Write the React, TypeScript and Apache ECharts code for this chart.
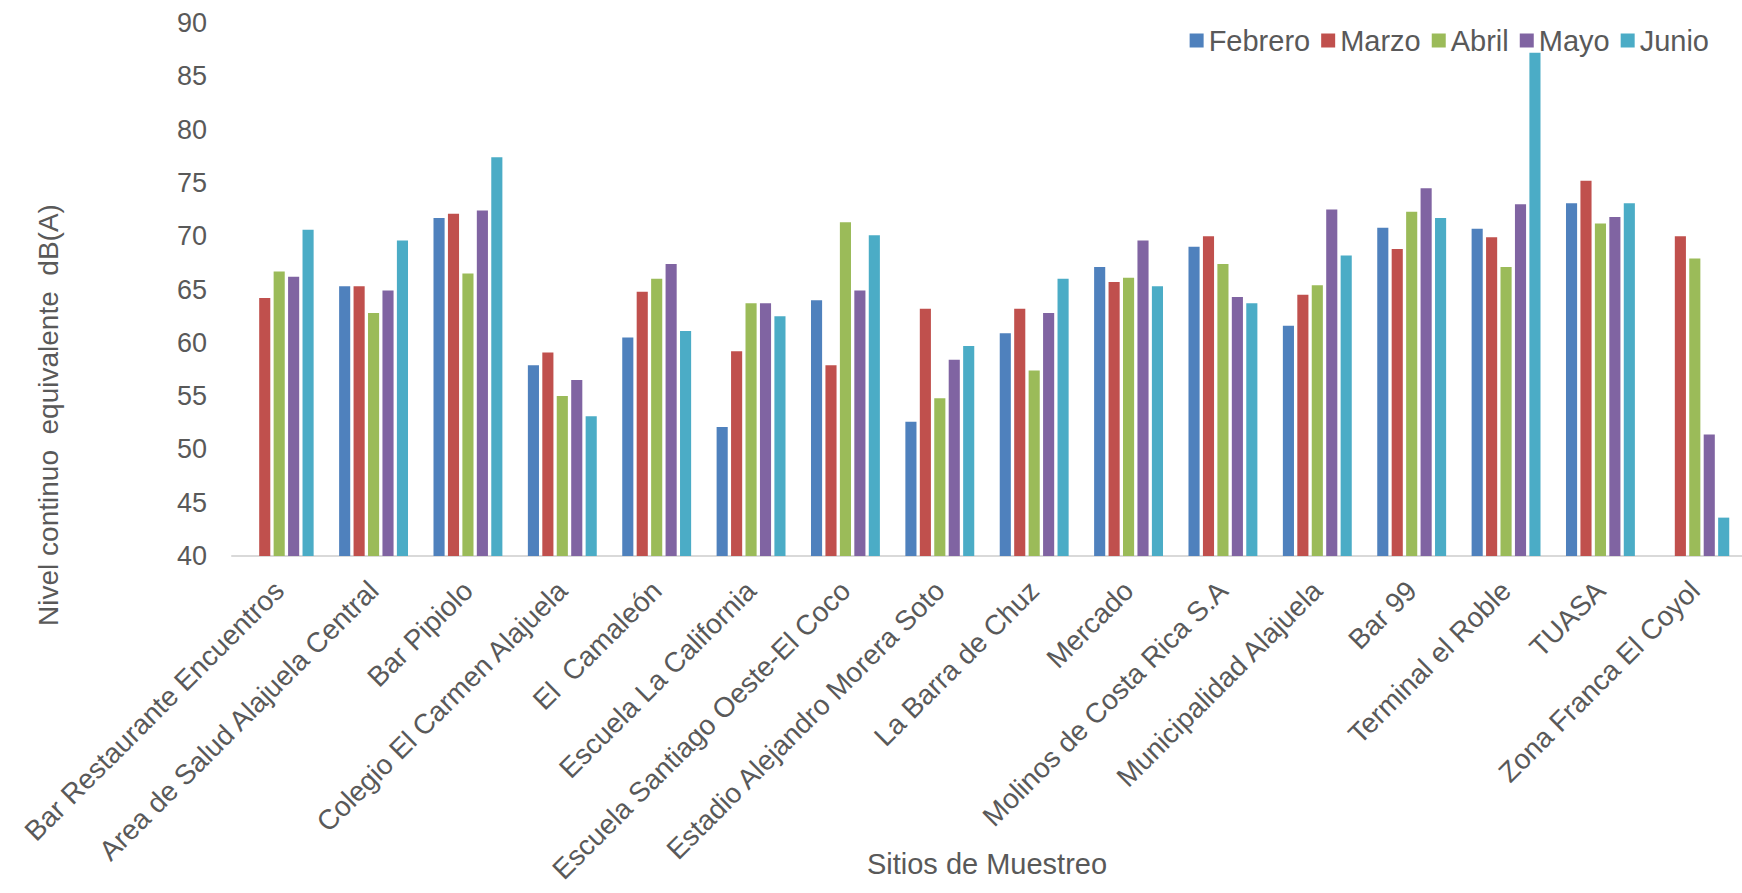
import React, { useEffect, useRef } from "react";
import * as echarts from "echarts";

const sites = [
  "Bar Restaurante Encuentros",
  "Area de Salud Alajuela Central",
  "Bar Pipiolo",
  "Colegio El Carmen Alajuela",
  "El  Camaleón",
  "Escuela La California",
  "Escuela Santiago Oeste-El Coco",
  "Estadio Alejandro Morera Soto",
  "La Barra de Chuz",
  "Mercado",
  "Molinos de Costa Rica S.A",
  "Municipalidad Alajuela",
  "Bar 99",
  "Terminal el Roble",
  "TUASA",
  "Zona Franca El Coyol",
];

const febrero = [null, 65.3, 71.7, 57.9, 60.5, 52.1, 64.0, 52.6, 60.9, 67.1, 69.0, 61.6, 70.8, 70.7, 73.1, null];
const marzo = [64.2, 65.3, 72.1, 59.1, 64.8, 59.2, 57.9, 63.2, 63.2, 65.7, 70.0, 64.5, 68.8, 69.9, 75.2, 70.0];
const abril = [66.7, 62.8, 66.5, 55.0, 66.0, 63.7, 71.3, 54.8, 57.4, 66.1, 67.4, 65.4, 72.3, 67.1, 71.2, 67.9];
const mayo = [66.2, 64.9, 72.4, 56.5, 67.4, 63.7, 64.9, 58.4, 62.8, 69.6, 64.3, 72.5, 74.5, 73.0, 71.8, 51.4];
const junio = [70.6, 69.6, 77.4, 53.1, 61.1, 62.5, 70.1, 59.7, 66.0, 65.3, 63.7, 68.2, 71.7, 87.2, 73.1, 43.6];

const seriesNames = ["Febrero", "Marzo", "Abril", "Mayo", "Junio"];
const seriesData = [febrero, marzo, abril, mayo, junio];
const colors = ["#4F81BD", "#C0504D", "#9BBB59", "#8064A2", "#4BACC6"];

const yTicks = { min: 40, max: 90, interval: 5 };

const FONT = "'Liberation Sans', Arial, sans-serif";
const TEXT = "#595959";

export default function App() {
  const ref = useRef<HTMLDivElement>(null);
  useEffect(() => {
    if (!ref.current) return;
    const chart = echarts.init(ref.current, undefined, { renderer: "svg" });
    chart.setOption({
      animation: false,
      color: colors,
      textStyle: { fontFamily: FONT },
      legend: {
        data: seriesNames,
        right: 28,
        top: 21,
        itemWidth: 14,
        itemHeight: 14,
        itemGap: 11,
        icon: "rect",
        textStyle: { fontSize: 29, color: TEXT, fontFamily: FONT, padding: [0, 0, 0, 0] },
      },
      grid: {
        left: 232,
        right: 0,
        top: 23,
        bottom: 337,
        containLabel: false,
        outerBoundsMode: "none",
      },
      xAxis: {
        type: "category",
        data: sites,
        name: "Sitios de Muestreo",
        nameLocation: "middle",
        nameGap: 293,
        nameMoveOverlap: false,
        nameTextStyle: { fontSize: 29, color: TEXT, fontFamily: FONT },
        axisLine: { lineStyle: { color: "#D9D9D9", width: 2 } },
        axisTick: { show: false },
        axisLabel: {
          rotate: 45,
          interval: 0,
          margin: 30,
          fontSize: 28,
          color: TEXT,
          fontFamily: FONT,
        },
      },
      yAxis: {
        type: "value",
        min: yTicks.min,
        max: yTicks.max,
        interval: yTicks.interval,
        name: "Nivel continuo  equivalente  dB(A)",
        nameLocation: "middle",
        nameGap: 170,
        nameMoveOverlap: false,
        nameTextStyle: { fontSize: 28, color: TEXT, fontFamily: FONT, padding: [0, 251, 0, 0] },
        axisLine: { show: false },
        axisTick: { show: false },
        splitLine: { show: false },
        axisLabel: { fontSize: 27, color: TEXT, margin: 25, fontFamily: FONT },
      },
      series: seriesNames.map((n, i) => ({
        name: n,
        type: "bar",
        data: seriesData[i],
        barGap: "30%",
        barCategoryGap: "27%",
        itemStyle: { color: colors[i] },
      })),
    });
    return () => chart.dispose();
  }, []);
  return (
    <div
      ref={ref}
      style={{ position: "absolute", left: 0, top: 0, width: 1742, height: 893, background: "#fff" }}
    />
  );
}
